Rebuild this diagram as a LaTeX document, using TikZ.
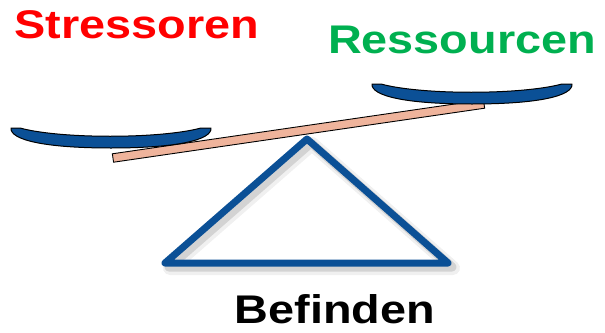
\documentclass[tikz,border=0pt]{standalone}
\usepackage{fontspec}
\setmainfont{Liberation Sans}
\definecolor{panblue}{HTML}{0B5096}
\definecolor{beamrose}{HTML}{EFB49C}
\definecolor{stressred}{HTML}{FF0000}
\definecolor{resgreen}{HTML}{00B050}
\newcommand{\widetext}[1]{\scalebox{1.17}[1]{#1}}
\begin{document}
\begin{tikzpicture}[x=1pt, y=-1pt,
          label/.style={anchor=base, inner sep=0pt, font=\fontsize{40}{40}\selectfont\bfseries},
          stand/.style={draw=panblue, line width=7pt, line join=round, line cap=round},
          standshadow/.style={draw=black, line join=round, line cap=round},
          beamrect/.style={draw=black, line width=0.9pt, fill=beamrose, minimum width=375pt, minimum height=8.5pt, inner sep=0pt, rotate=8.28},
          panfill/.style={draw=black, line width=1pt, fill=panblue, line join=round},
          pan/.pic={
            \draw[panfill] (-100,0) -- (-91,0) .. controls (-51,11) and (49,11) .. (90,0) -- (100,0)
              .. controls (101,12) and (66,20) .. (0,20) .. controls (-66,20) and (-101,12) .. (-100,0) -- cycle;
          }]
        \useasboundingbox (0,0) rectangle (605,332);
        % stand with soft shadow
        \coordinate (apex) at (307,139);
        \coordinate (footr) at (448,263);
        \coordinate (footl) at (165,263);
        \draw[standshadow, opacity=0.06, line width=14pt] ([shift={(5,5)}]apex) -- ([shift={(5,5)}]footr) -- ([shift={(5,5)}]footl) -- cycle;
        \draw[standshadow, opacity=0.12, line width=9pt] ([shift={(4,4)}]apex) -- ([shift={(4,4)}]footr) -- ([shift={(4,4)}]footl) -- cycle;
        \draw[stand] (apex) -- (footr) -- (footl) -- cycle;
        % beam and pans
        \node[beamrect] (beam) at (298.5,131) {};
        \pic (lpan) at (111,128) {pan};
        \pic (rpan) at (472,84) {pan};
        \node[label, text=stressred] (stress) at (137,38) {\widetext{Stressoren}};
        \node[label, text=resgreen] (res) at (462,53) {\widetext{Ressourcen}};
        \node[label, text=black] (befinden) at (335,323) {\widetext{Befinden}};
      \end{tikzpicture}
\end{document}
